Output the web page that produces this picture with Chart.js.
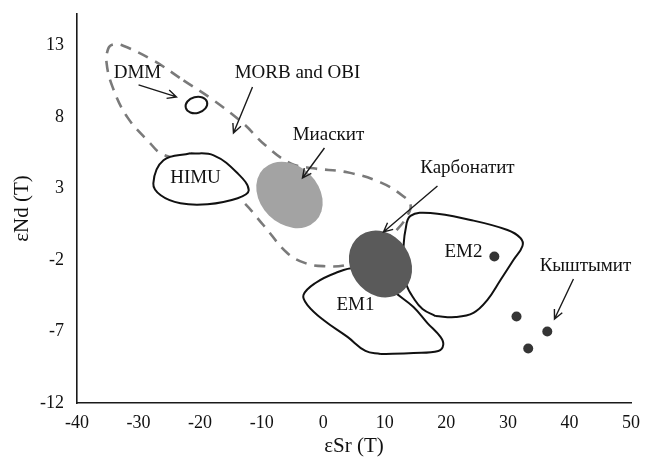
<!DOCTYPE html>
<html><head><meta charset="utf-8">
<script src="https://cdn.jsdelivr.net/npm/chart.js@4.4.0/dist/chart.umd.min.js"></script>
<style>html,body{margin:0;padding:0;background:#fff}</style>
</head><body>
<canvas id="c" width="654" height="463" style="width:654px;height:463px;display:block"></canvas>
<script>
// ---- axis ticks ----
const xTicks = [-40, -30, -20, -10, 0, 10, 20, 30, 40, 50];
const yTicks = [-12, -7, -2, 3, 8, 13];

// ---- MORB and OBI field (dashed outline) ----
const morbX = [-22.7, -17.8, -13.0, -9.4, -5.3, -1.6, 3.9, 9.3, 13.0, 14.2, 13.7, 12.2, 7.7, 3.6, 0.0, -2.9, -5.8, -9.7, -13.3, -17.5, -22.4, -26.4, -28.1, -31.8, -34.2, -35.2, -34.9, -34.1, -32.6, -27.6, -22.7];
const morbY = [10.56, 9.16, 7.55, 6.02, 4.76, 4.41, 4.13, 3.43, 2.46, 1.83, 1.13, 0.22, -1.66, -2.36, -2.43, -2.22, -1.53, 0.43, 2.18, 3.57, 4.83, 5.46, 6.16, 7.97, 10.07, 11.8, 12.8, 13.07, 13.0, 11.95, 10.56];

// ---- HIMU field ----
const himuX = [-21.56, -17.8, -13.9, -12.1, -13.9, -18.8, -23.2, -26.4, -27.6, -25.95, -21.56];
const himuY = [5.46, 5.32, 4.06, 2.87, 2.32, 1.9, 1.97, 2.53, 3.36, 4.97, 5.46];

// ---- EM1 field ----
const em1X = [9.3, 6.86, 3.94, 0.04, -2.56, -3.21, -1.26, 2.0, 5.24, 9.3, 11.25, 14.66, 16.93, 19.05, 19.5, 18.7, 14.66, 9.3];
const em1Y = [-8.57, -8.36, -7.38, -6.2, -5.15, -4.45, -3.61, -2.91, -2.56, -3.05, -4.1, -5.29, -6.41, -7.38, -7.94, -8.36, -8.5, -8.57];

// ---- EM2 field ----
const em2X = [18.24, 16.13, 14.66, 13.53, 12.88, 13.04, 13.36, 14.18, 17.42, 23.92, 29.93, 32.04, 32.37, 30.9, 28.8, 26.68, 24.4, 21.49, 18.24];
const em2Y = [-5.92, -5.43, -4.66, -3.75, -2.35, -1.09, 0.10, 1.08, 1.29, 0.80, 0.10, -0.46, -1.02, -2.0, -3.4, -4.79, -5.7, -5.99, -5.92];

// ---- sample points (EM2 dot + Кыштымит) ----
const dotX = [27.8, 31.4, 36.4, 33.3];
const dotY = [-1.76, -5.95, -7.0, -8.19];

// ---- ellipses: DMM, Миаскит, Карбонатит ----
const ellName = ['DMM', 'Миаскит', 'Карбонатит'];
const ellX  = [-20.6, -5.48, 9.3];
const ellY  = [8.84, 2.55, -2.28];
const ellRX = [1.79, 6.0, 5.7];
const ellRY = [0.56, 2.03, 2.08];
const ellRot = [-15, 45, 55];

// ---- text labels ----
const labText = ['DMM', 'MORB and OBI', 'Миаскит', 'Карбонатит', 'Кыштымит', 'HIMU', 'EM1', 'EM2'];
const labX = [-30.17, -4.18, 0.85, 23.43, 42.6, -20.75, 5.24, 22.77];
const labY = [11.08, 11.08, 6.74, 4.43, -2.42, 3.73, -5.15, -1.44];

// ---- arrows (tail -> head) ----
const arrX1 = [-30.0, -11.49, 0.2, 18.56, 40.65];
const arrY1 = [10.24, 10.1, 5.83, 3.17, -3.33];
const arrX2 = [-23.84, -14.58, -3.37, 9.79, 37.57];
const arrY2 = [9.4, 6.88, 3.73, -0.04, -6.13];

const pts = (xs, ys) => xs.map((v, i) => ({x: v, y: ys[i]}));
const FONT = "'Liberation Serif', 'Times New Roman', serif";

const overlay = {
  id: 'overlay',
  afterDatasetsDraw(chart) {
    const {ctx} = chart; const xs = chart.scales.x, ys = chart.scales.y;
    ctx.save();
    ellName.forEach((n, i) => {
      const cx = xs.getPixelForValue(ellX[i]), cy = ys.getPixelForValue(ellY[i]);
      const rx = Math.abs(xs.getPixelForValue(ellX[i] + ellRX[i]) - cx);
      const ry = Math.abs(ys.getPixelForValue(ellY[i] + ellRY[i]) - cy);
      ctx.beginPath();
      ctx.ellipse(cx, cy, rx, ry, ellRot[i] * Math.PI / 180, 0, Math.PI * 2);
      if (i === 0) { ctx.lineWidth = 2; ctx.strokeStyle = '#151515'; ctx.stroke(); }
      else { ctx.fillStyle = i === 1 ? '#a3a3a3' : '#5a5a5a'; ctx.fill(); }
    });
    ctx.restore();
  },
  afterDraw(chart) {
    const {ctx} = chart; const xs = chart.scales.x, ys = chart.scales.y;
    ctx.save();
    ctx.strokeStyle = '#1a1a1a'; ctx.lineWidth = 1.4;
    arrX1.forEach((v, i) => {
      const x1 = xs.getPixelForValue(arrX1[i]), y1 = ys.getPixelForValue(arrY1[i]);
      const x2 = xs.getPixelForValue(arrX2[i]), y2 = ys.getPixelForValue(arrY2[i]);
      const a = Math.atan2(y2 - y1, x2 - x1), h = 10, s = 0.45;
      ctx.beginPath(); ctx.moveTo(x1, y1); ctx.lineTo(x2, y2);
      ctx.moveTo(x2 - h * Math.cos(a - s), y2 - h * Math.sin(a - s));
      ctx.lineTo(x2, y2);
      ctx.lineTo(x2 - h * Math.cos(a + s), y2 - h * Math.sin(a + s));
      ctx.stroke();
    });
    ctx.fillStyle = '#111'; ctx.font = '19px ' + FONT;
    ctx.textAlign = 'center'; ctx.textBaseline = 'middle';
    labText.forEach((t, i) => ctx.fillText(t, xs.getPixelForValue(labX[i]), ys.getPixelForValue(labY[i])));
    ctx.restore();
  }
};

const shape = (data, order, extra) => Object.assign({
  data, order, showLine: true, tension: 0.4, pointRadius: 0, borderColor: '#111',
  borderWidth: 2, fill: 'shape', backgroundColor: '#ffffff'
}, extra || {});

new Chart(document.getElementById('c'), {
  type: 'line',
  data: {
    datasets: [
      shape(pts(morbX, morbY), 5, {borderColor: '#7a7a7a', borderWidth: 2.6, borderDash: [11, 8], fill: false}),
      shape(pts(himuX, himuY), 4),
      shape(pts(em1X, em1Y), 3),
      shape(pts(em2X, em2Y), 2),
      {data: pts(dotX, dotY), order: 1, showLine: false, pointRadius: 5, pointBorderWidth: 0,
       pointBackgroundColor: '#353535', pointBorderColor: '#353535'}
    ]
  },
  options: {
    responsive: false, animation: false, devicePixelRatio: 1,
    layout: {padding: {top: 14, right: 23, left: 0, bottom: 0}},
    plugins: {legend: {display: false}, tooltip: {enabled: false}},
    scales: {
      x: {
        type: 'linear', min: -40, max: 50,
        grid: {display: false, drawTicks: false},
        border: {display: true, color: '#1a1a1a', width: 1.6},
        afterBuildTicks: s => { s.ticks = xTicks.map(v => ({value: v})); },
        afterFit: s => { s.height = 60; s.paddingLeft = 0; s.paddingRight = 0; },
        ticks: {padding: 9, color: '#111', font: {family: FONT, size: 18}, maxRotation: 0, autoSkip: false},
        title: {display: true, text: 'εSr (T)', color: '#111', font: {family: FONT, size: 21}, padding: {top: 3, bottom: 4}}
      },
      y: {
        type: 'linear', min: -12, max: 15.2,
        grid: {display: false, drawTicks: false},
        border: {display: true, color: '#1a1a1a', width: 1.6},
        afterBuildTicks: s => { s.ticks = yTicks.map(v => ({value: v})); },
        afterFit: s => { s.width = 77; s.paddingTop = 0; s.paddingBottom = 0; },
        ticks: {padding: 13, color: '#111', font: {family: FONT, size: 18}, autoSkip: false},
        title: {display: true, text: 'εNd (T)', color: '#111', font: {family: FONT, size: 21}, padding: {top: 10, bottom: 4}}
      }
    }
  },
  plugins: [overlay]
});
</script>
</body></html>
